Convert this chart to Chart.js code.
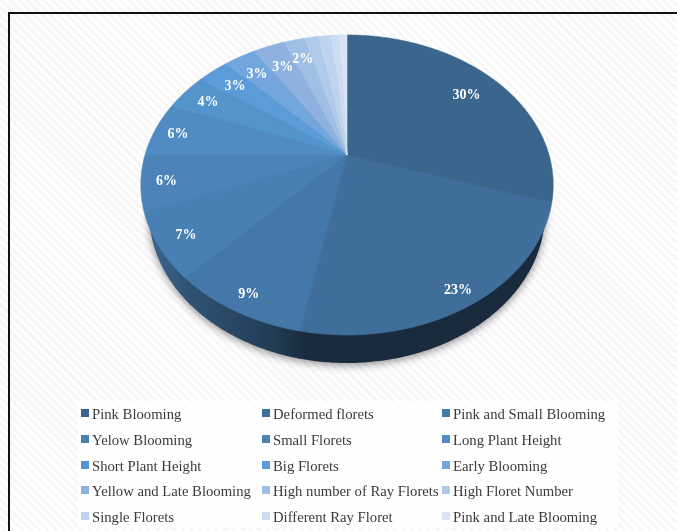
<!DOCTYPE html>
<html>
<head>
<meta charset="utf-8">
<title>Flower trait frequencies</title>
<script src="https://cdn.jsdelivr.net/npm/chart.js@4"></script>
<style>
  html, body { margin: 0; padding: 0; background: #fff; }
  #sheet {
    position: relative; width: 677px; height: 531px; overflow: hidden; box-sizing: border-box;
    background: repeating-linear-gradient(45deg, #ffffff 0 3px, #f7f7f7 3px 6px);
  }
  #frame { position: absolute; left: 8px; top: 12px; width: 700px; height: 560px; border: 2px solid #111; box-sizing: border-box; }
  canvas { position: absolute; left: 0; top: 0; }
</style>
</head>
<body>
<div id="sheet">
  <div id="frame"></div>
  <canvas id="pie" width="677" height="531"></canvas>
</div>
<script>
const categories = [
  "Pink Blooming", "Deformed florets", "Pink and Small Blooming",
  "Yelow Blooming", "Small Florets", "Long Plant Height",
  "Short Plant Height", "Big Florets", "Early Blooming",
  "Yellow and Late Blooming", "High number of Ray Florets", "High Floret Number",
  "Single Florets", "Different Ray Floret", "Pink and Late Blooming"
];
const shares = [30, 23, 9, 7, 6, 6, 4, 3, 3, 3, 2, 1.3, 1.2, 0.8, 0.7];
const sliceColors = [
  "#3a658c", "#3f6e9b", "#4478a9", "#4880b4", "#4c84ba",
  "#508cc3", "#5494cc", "#5a9bd8", "#72a6dc", "#8fb1df",
  "#a0bfe5", "#b0cbe9", "#bdd3ee", "#ccdcf2", "#d9e5f6"
];
// How far along its radius each percentage sits
const labelReach = [0.8, 0.91, 0.9, 0.87, 0.88, 0.88, 0.85, 0.82, 0.82, 0.8, 0.82];

// Perspective tilt of the disc: apex position, width, depth and foreshortening;
// the lower rim sits further away, so it is a little narrower than the top one
const TILT = { cx: 347, cy: 155, wide: 202, deep: 113, lean: 0.2, wall: 28, lowerScale: 0.96 };

function project(angle, reach) {
  const u = Math.cos(angle) * reach, v = Math.sin(angle) * reach;
  const w = 1 - TILT.lean * v;
  return { x: TILT.cx + TILT.wide * u / w, y: (TILT.deep * v + TILT.cy) / w };
}

function traceRim(ctx, start, end, lower) {
  const steps = Math.max(2, Math.ceil(Math.abs(end - start) / 0.01));
  for (let i = 0; i <= steps; i++) {
    const p = project(start + (end - start) * i / steps, 1);
    if (lower) ctx.lineTo(TILT.cx + (p.x - TILT.cx) * TILT.lowerScale, p.y + TILT.wall);
    else ctx.lineTo(p.x, p.y);
  }
}

// Draws the tilted disc from the arc angles the pie controller computes
const tiltedPie = {
  id: "tiltedPie",
  beforeDatasetDraw(chart, args) {
    const ctx = chart.ctx, arcs = args.meta.data;
    ctx.save();

    // Rim wall, darkening to the right, with a soft shadow beneath it
    const wallFill = ctx.createLinearGradient(141, 0, 553, 0);
    wallFill.addColorStop(0, "#3d6993");
    wallFill.addColorStop(0.12, "#2f5273");
    wallFill.addColorStop(0.32, "#223d55");
    wallFill.addColorStop(0.40, "#1a2b3e");
    wallFill.addColorStop(1, "#1a2a3d");
    ctx.save();
    ctx.shadowColor = "rgba(0,0,0,0.45)";
    ctx.shadowBlur = 9;
    ctx.shadowOffsetY = 2;
    ctx.fillStyle = wallFill;
    ctx.beginPath();
    traceRim(ctx, 0, Math.PI * 2, true);
    ctx.closePath();
    ctx.fill();
    ctx.restore();

    // Top face
    arcs.forEach(arc => {
      ctx.fillStyle = ctx.strokeStyle = arc.options.backgroundColor;
      ctx.lineWidth = 0.6;
      ctx.beginPath();
      ctx.moveTo(TILT.cx, TILT.cy);
      traceRim(ctx, arc.startAngle, arc.endAngle, false);
      ctx.closePath();
      ctx.fill();
      ctx.stroke();
    });

    // Percentages for the slices large enough to carry one
    ctx.fillStyle = "#ffffff";
    ctx.font = "bold 14px 'Liberation Serif'";
    ctx.textAlign = "center";
    ctx.textBaseline = "middle";
    arcs.forEach((arc, i) => {
      if (shares[i] < 2) return;
      const p = project((arc.startAngle + arc.endAngle) / 2, labelReach[i]);
      ctx.fillText(Math.round(shares[i]) + "%", p.x, p.y + 2);
    });
    ctx.restore();
    return false;
  }
};

// Three-column key on a pale panel under the pie
const columnKey = {
  id: "columnKey",
  afterDraw(chart) {
    const ctx = chart.ctx;
    const items = Chart.overrides.pie.plugins.legend.labels.generateLabels(chart);
    const columns = [81, 262, 442], rows = [415, 441, 467, 492, 518];
    ctx.save();
    ctx.fillStyle = "rgba(255,255,255,0.85)";
    ctx.fillRect(78, 401, 540, 127);
    ctx.font = "14.7px 'Liberation Serif'";
    ctx.textBaseline = "middle";
    items.forEach((item, i) => {
      const x = columns[i % 3], y = rows[Math.floor(i / 3)];
      ctx.fillStyle = item.fillStyle;
      ctx.fillRect(x, y - 6, 8, 8);
      ctx.fillStyle = "#3a3a3a";
      ctx.fillText(item.text, x + 11, y);
    });
    ctx.restore();
  }
};

new Chart(document.getElementById("pie"), {
  type: "pie",
  data: {
    labels: categories,
    datasets: [{ data: shares, backgroundColor: sliceColors, borderWidth: 0 }]
  },
  options: {
    responsive: false,
    animation: false,
    plugins: { legend: { display: false }, tooltip: { enabled: false } }
  },
  plugins: [tiltedPie, columnKey]
});
</script>
</body>
</html>
